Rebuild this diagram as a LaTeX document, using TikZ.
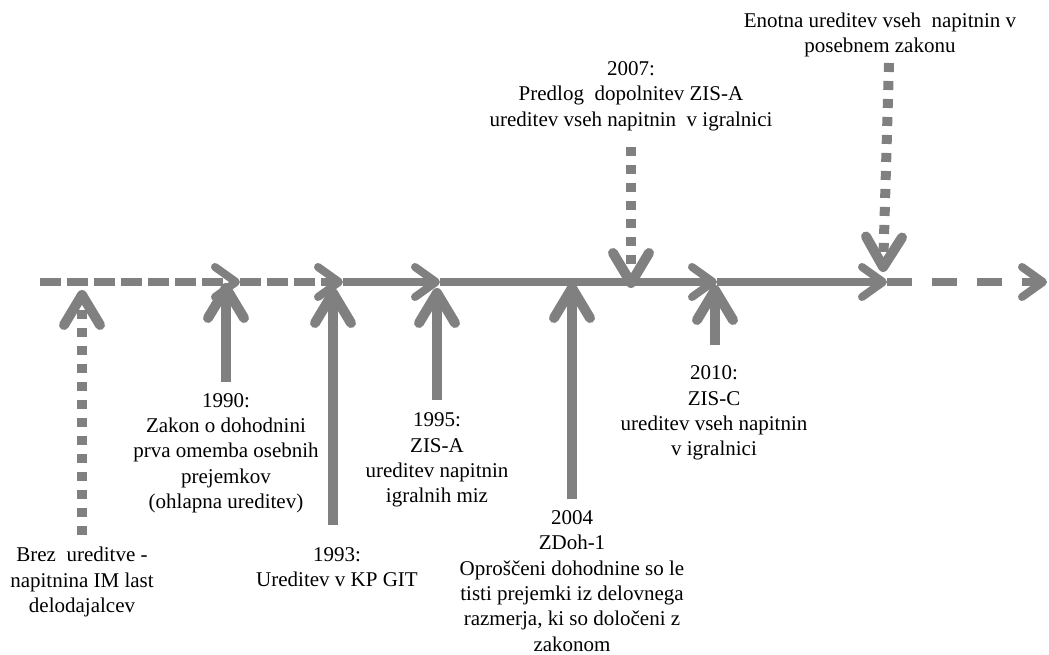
\documentclass[tikz,border=0pt]{standalone}
\usepackage{fontspec}
\setmainfont{Liberation Serif}
\usetikzlibrary{arrows.meta}

\definecolor{tlgray}{RGB}{128,128,128}

\tikzset{
  axisline/.style={draw=tlgray, line width=8pt},
  axistip/.style={-{Straight Barb[length=21pt,width=30pt,round]}},
  axisdash/.style={dash pattern=on 21pt off 6pt},
  axislongdash/.style={dash pattern=on 25pt off 20pt},
  pointer/.style={draw=tlgray, line width=10pt,
    -{Straight Barb[length=30pt,width=36pt,round]}},
  dotted pointer/.style={pointer, dash pattern=on 9pt off 9pt},
  label/.style={inner sep=0pt, align=center,
    font=\fontsize{21}{25.3}\selectfont}
}

\begin{document}
\begin{tikzpicture}[x=1pt,y=-1pt]
\useasboundingbox (0,0) rectangle (1049,655);

% points on the time axis
\coordinate (m0) at (40,282);
\coordinate (m1) at (240,282);
\coordinate (m2) at (343,282);
\coordinate (m3) at (440,282);
\coordinate (m4) at (717,282);
\coordinate (m5) at (887,282);
\coordinate (m6) at (1047,282);

% time axis
\draw[axisline, axisdash, axistip] (m0) -- (m1);
\draw[axisline, axisdash, axistip] (m1) -- (m2);
\draw[axisline, axistip] (m2) -- (m3);
\draw[axisline, axistip] (m3) -- (m4);
\draw[axisline, axistip] (m4) -- (m5);
\draw[axisline, axislongdash, axistip] (m5) -- (m6);

% event labels
\node[label] (brez) at (82,582) {Brez~ ureditve -\\napitnina IM last\\delodajalcev};
\node[label] (y1990) at (226,453) {1990:\\Zakon o dohodnini\\prva omemba osebnih\\prejemkov\\(ohlapna ureditev)};
\node[label] (y1993) at (337,567) {1993:\\Ureditev v KP GIT};
\node[label] (y1995) at (437,460) {1995:\\ZIS-A\\ureditev napitnin\\igralnih miz};
\node[label] (y2004) at (572,581) {2004\\ZDoh-1\\Oproščeni dohodnine so le\\tisti prejemki iz delovnega\\razmerja, ki so določeni z\\zakonom};
\node[label] (y2010) at (714,413) {2010:\\ZIS-C\\ureditev vseh napitnin\\v igralnici};
\node[label] (y2007) at (631,96) {2007:\\Predlog~ dopolnitev ZIS-A\\ureditev vseh napitnin~ v igralnici};
\node[label] (enotna) at (880,35) {Enotna ureditev vseh~ napitnin v\\posebnem zakonu};

% pointer ends
\coordinate (brez-foot) at (82,535);   \coordinate (brez-tip) at (82,290);
\coordinate (y1990-foot) at (226,382); \coordinate (y1990-tip) at (226,283);
\coordinate (y1993-foot) at (333,525); \coordinate (y1993-tip) at (333,288);
\coordinate (y1995-foot) at (437,400); \coordinate (y1995-tip) at (437,288);
\coordinate (y2004-foot) at (572,499); \coordinate (y2004-tip) at (572,283);
\coordinate (y2010-foot) at (715,345); \coordinate (y2010-tip) at (715,285);
\coordinate (y2007-foot) at (631,147); \coordinate (y2007-tip) at (631,288);
\coordinate (enotna-foot) at (889,63); \coordinate (enotna-tip) at (883,272);

% pointers to the axis
\draw[dotted pointer] (brez-foot) -- (brez-tip);
\draw[pointer] (y1990-foot) -- (y1990-tip);
\draw[pointer] (y1993-foot) -- (y1993-tip);
\draw[pointer] (y1995-foot) -- (y1995-tip);
\draw[pointer] (y2004-foot) -- (y2004-tip);
\draw[pointer] (y2010-foot) -- (y2010-tip);
\draw[dotted pointer] (y2007-foot) -- (y2007-tip);
\draw[dotted pointer] (enotna-foot) -- (enotna-tip);
\end{tikzpicture}
\end{document}
